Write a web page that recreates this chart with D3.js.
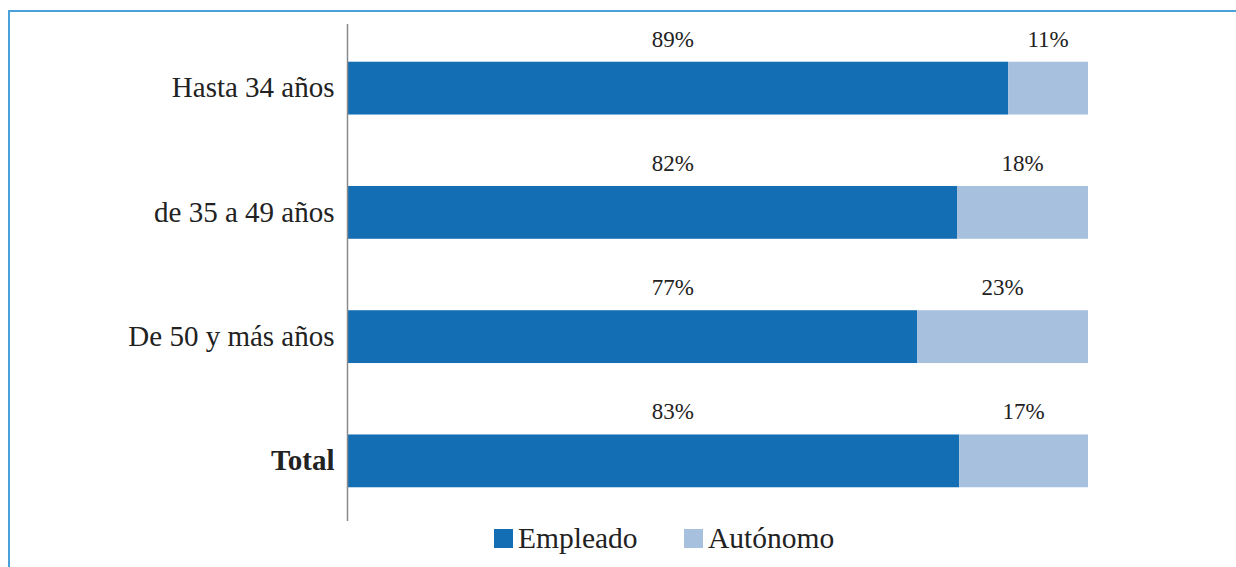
<!DOCTYPE html>
<html>
<head>
<meta charset="utf-8">
<script src="https://cdn.jsdelivr.net/npm/d3@7"></script>
<style>
  html, body { margin: 0; padding: 0; background: #fff; }
  svg { display: block; }
</style>
</head>
<body>
<script>
// ---- data ----
const categories = ["Hasta 34 años", "de 35 a 49 años", "De 50 y más años", "Total"];
const empleado = [89.2, 82.3, 76.9, 82.6];
const autonomo = [10.8, 17.7, 23.1, 17.4];
const seriesNames = ["Empleado", "Autónomo"];
const colors = ["#146eb4", "#a6c0de"];

const W = 1236, H = 567;
const svg = d3.select("body").append("svg").attr("width", W).attr("height", H);
svg.append("rect").attr("width", W).attr("height", H).attr("fill", "#fff");

// frame (top + left lines)
svg.append("line").attr("x1", 8).attr("x2", W).attr("y1", 11).attr("y2", 11)
  .attr("stroke", "#4aa0d8").attr("stroke-width", 2);
svg.append("line").attr("x1", 9).attr("x2", 9).attr("y1", 10).attr("y2", H)
  .attr("stroke", "#4aa0d8").attr("stroke-width", 2);

const x = d3.scaleLinear().domain([0, 100]).range([348, 1088]);
const y = d3.scaleBand().domain(categories).range([26, 523])
  .paddingInner(0.575).paddingOuter(0.2875);

const rows = categories.map((c, i) => ({ c, e: empleado[i], a: autonomo[i] }));

const g = svg.append("g");
// empleado bars
g.selectAll("rect.e").data(rows).join("rect").attr("class", "e")
  .attr("x", x(0)).attr("y", d => y(d.c))
  .attr("width", d => x(d.e) - x(0)).attr("height", y.bandwidth())
  .attr("fill", colors[0]);
// autonomo bars
g.selectAll("rect.a").data(rows).join("rect").attr("class", "a")
  .attr("x", d => x(d.e)).attr("y", d => y(d.c))
  .attr("width", d => x(d.e + d.a) - x(d.e)).attr("height", y.bandwidth())
  .attr("fill", colors[1]);

// value labels
const labelFont = "'Liberation Serif', 'Times New Roman', serif";
g.selectAll("text.le").data(rows).join("text").attr("class", "le")
  .attr("x", x(43.9)).attr("y", d => y(d.c) - 15)
  .attr("text-anchor", "middle").attr("font-family", labelFont)
  .attr("font-size", 23).attr("fill", "#222")
  .text(d => Math.round(d.e) + "%");
g.selectAll("text.la").data(rows).join("text").attr("class", "la")
  .attr("x", d => x(d.e + d.a / 2)).attr("y", d => y(d.c) - 15)
  .attr("text-anchor", "middle").attr("font-family", labelFont)
  .attr("font-size", 23).attr("fill", "#222")
  .text(d => Math.round(d.a) + "%");

// y axis
const yAxis = d3.axisLeft(y).tickSize(0).tickPadding(13);
const ya = svg.append("g").attr("transform", "translate(347.5,0)").call(yAxis);
ya.select(".domain").attr("stroke", "#8a8a8a").attr("stroke-width", 1.5)
  .attr("d", "M0,24V521");
ya.selectAll(".tick text")
  .attr("font-family", labelFont).attr("font-size", 29).attr("fill", "#222")
  .attr("font-weight", d => d === "Total" ? "bold" : "normal");

// legend
const legendX = [494, 684];
const lg = svg.append("g");
seriesNames.forEach((s, i) => {
  lg.append("rect").attr("x", legendX[i]).attr("y", 529).attr("width", 19).attr("height", 19)
    .attr("fill", colors[i]);
  lg.append("text").attr("x", legendX[i] + 24).attr("y", 548)
    .attr("font-family", labelFont).attr("font-size", 29.5).attr("fill", "#222")
    .text(s);
});
</script>
</body>
</html>
